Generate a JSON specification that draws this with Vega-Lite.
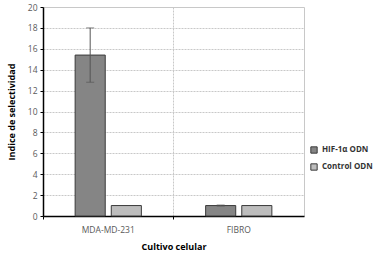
{
  "$schema": "https://vega.github.io/schema/vega-lite/v6.json",
  "width": 261,
  "height": 209,
  "autosize": "none",
  "padding": {"left": 43, "top": 7, "right": 79, "bottom": 42},
  "background": "white",
  "config": {
    "font": "Open Sans",
    "view": {"stroke": "#c8c8c8", "strokeWidth": 1}
  },
  "data": {
    "values": [
      {"cultivo": "MDA-MD-231", "serie": "HIF-1α ODN", "valor": 15.4, "lo": 12.8, "hi": 18.0},
      {"cultivo": "MDA-MD-231", "serie": "Control ODN", "valor": 1.0},
      {"cultivo": "FIBRO", "serie": "HIF-1α ODN", "valor": 1.0, "lo": 0.95, "hi": 1.05},
      {"cultivo": "FIBRO", "serie": "Control ODN", "valor": 1.0}
    ]
  },
  "resolve": {"axis": {"y": "independent"}},
  "encoding": {
    "x": {
      "field": "cultivo", "type": "nominal", "sort": ["MDA-MD-231", "FIBRO"],
      "scale": {"paddingInner": 0, "paddingOuter": 0},
      "axis": {
        "title": "Cultivo celular", "titleFontSize": 9, "titleFontWeight": "bold", "titleColor": "#000",
        "titlePadding": 9,
        "labelAngle": 0, "labelFontSize": 8.5, "labelColor": "#595959", "labelPadding": 6,
        "bandPosition": 0, "grid": true, "gridColor": "#c8c8c8", "gridDash": [2, 1],
        "domainColor": "#000", "domainWidth": 1.5, "tickColor": "#000", "tickSize": 3
      }
    },
    "xOffset": {
      "field": "serie", "type": "nominal", "sort": ["HIF-1α ODN", "Control ODN"],
      "scale": {"paddingInner": 0.167, "paddingOuter": 0.889}
    }
  },
  "layer": [
    {
      "mark": {"type": "bar", "stroke": "#3a3a3a", "strokeWidth": 1},
      "encoding": {
        "y": {
          "field": "valor", "type": "quantitative",
          "scale": {"domain": [0, 20], "nice": false},
          "axis": {
            "title": "Indice de selectividad", "titleFontSize": 9, "titleFontWeight": "bold", "titleColor": "#000",
            "titlePadding": 11,
            "values": [0, 2, 4, 6, 8, 10, 12, 14, 16, 18, 20], "labelOverlap": false,
            "labelFontSize": 8.5, "labelColor": "#595959", "labelPadding": 3,
            "grid": true, "gridColor": "#c8c8c8", "gridDash": [2, 1],
            "domainColor": "#000", "domainWidth": 1.5, "tickColor": "#000", "tickSize": 3
          }
        },
        "fill": {
          "field": "serie", "type": "nominal", "sort": ["HIF-1α ODN", "Control ODN"],
          "scale": {"range": ["#858585", "#bdbdbd"]},
          "legend": {
            "title": null, "orient": "none", "legendX": 267, "legendY": 139,
            "symbolType": "square", "symbolSize": 40, "symbolStrokeColor": "#3a3a3a", "symbolStrokeWidth": 1,
            "labelFontSize": 8, "labelFontWeight": "bold", "labelColor": "#333", "rowPadding": 5
          }
        }
      }
    },
    {
      "mark": {"type": "rule", "color": "#555", "strokeWidth": 1},
      "encoding": {
        "y": {"field": "lo", "type": "quantitative", "axis": null},
        "y2": {"field": "hi"}
      }
    },
    {
      "mark": {"type": "tick", "color": "#555", "size": 8, "thickness": 1, "orient": "horizontal"},
      "encoding": {"y": {"field": "lo", "type": "quantitative", "axis": null}}
    },
    {
      "mark": {"type": "tick", "color": "#555", "size": 8, "thickness": 1, "orient": "horizontal"},
      "encoding": {"y": {"field": "hi", "type": "quantitative", "axis": null}}
    }
  ]
}
